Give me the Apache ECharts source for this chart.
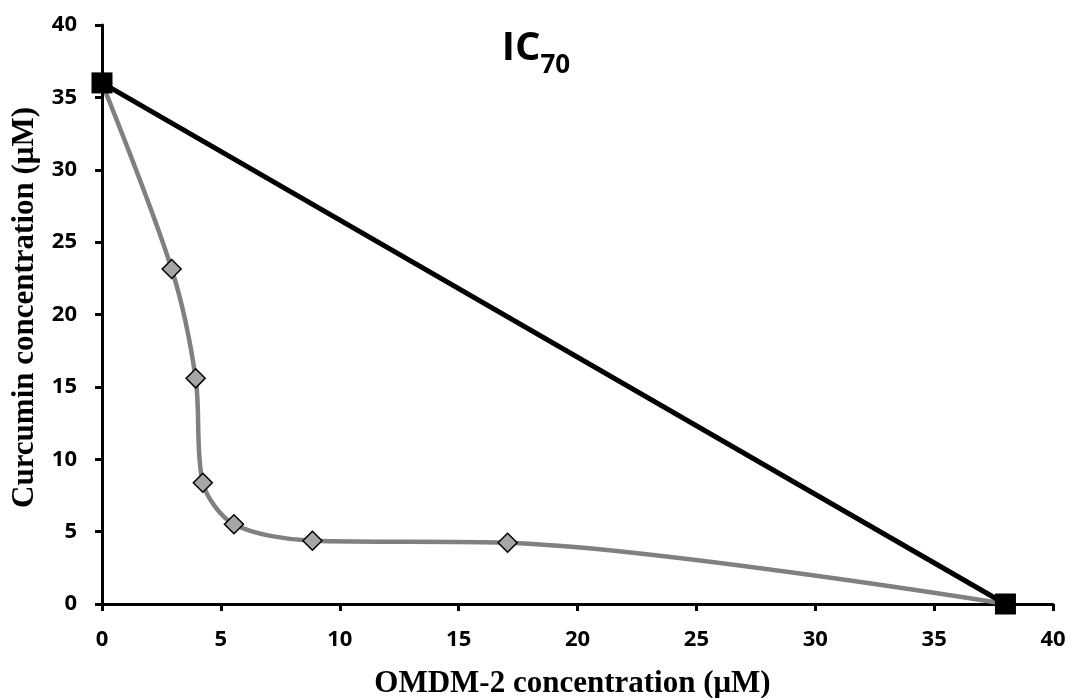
<!DOCTYPE html>
<html>
<head>
<meta charset="utf-8">
<script src="https://cdn.jsdelivr.net/npm/echarts@6/dist/echarts.min.js"></script>
<style>html,body{margin:0;padding:0;background:#fff}#c{width:1072px;height:698px}</style>
</head>
<body>
<div id="c"></div>
<script>
const combinationX = [0, 2.93, 3.94, 4.24, 5.55, 8.85, 17.06, 38];
const combinationY = [36, 23.14, 15.59, 8.38, 5.51, 4.37, 4.23, 0];
const additiveX = [0, 38];
const additiveY = [36, 0];
const xTicks = [0, 5, 10, 15, 20, 25, 30, 35, 40];
const yTicks = [0, 5, 10, 15, 20, 25, 30, 35, 40];

const chart = echarts.init(document.getElementById('c'));
const tickFont = {fontFamily: 'Open Sans', fontWeight: 'bold', fontSize: 22, color: '#000'};
chart.setOption({
  animation: false,
  backgroundColor: '#fff',
  title: {
    text: '{a|IC}{b|70}',
    left: 531, top: 14, textAlign: 'center',
    textStyle: {
      rich: {
        a: {fontFamily: 'Open Sans', fontWeight: 'bold', fontSize: 40, color: '#000', verticalAlign: 'bottom', lineHeight: 50},
        b: {fontFamily: 'Open Sans', fontWeight: 'bold', fontSize: 26, color: '#000', verticalAlign: 'bottom', lineHeight: 50, padding: [0,0,-10,0]}
      }
    }
  },
  grid: {left: 102, right: 19, top: 25, bottom: 94, containLabel: false, outerBoundsMode: 'none'},
  xAxis: {
    type: 'value', min: xTicks[0], max: xTicks[xTicks.length-1], interval: 5,
    name: 'OMDM-2 concentration (μM)', nameLocation: 'middle', nameGap: 64,
    nameTextStyle: {fontFamily: 'Liberation Serif', fontWeight: 'bold', fontSize: 31, color: '#000', padding: [0, 10, 0, 0]},
    axisLine: {lineStyle: {color: '#000', width: 3}},
    axisTick: {show: true, length: 7, lineStyle: {color: '#000', width: 3}},
    axisLabel: Object.assign({margin: 25}, tickFont),
    splitLine: {show: false}
  },
  yAxis: {
    type: 'value', min: yTicks[0], max: yTicks[yTicks.length-1], interval: 5,
    name: 'Curcumin concentration (μM)', nameLocation: 'middle', nameGap: 60,
    nameTextStyle: {fontFamily: 'Liberation Serif', fontWeight: 'bold', fontSize: 31, color: '#000', padding: [0, 0, 0, 14]},
    axisLine: {show: true, lineStyle: {color: '#000', width: 3}},
    axisTick: {show: true, length: 7, lineStyle: {color: '#000', width: 3}},
    axisLabel: Object.assign({margin: 25}, tickFont),
    splitLine: {show: false}
  },
  series: [
    {
      type: 'line',
      data: combinationX.map((x, i) => [x, combinationY[i]]),
      smooth: 0.3,
      lineStyle: {color: '#808080', width: 4.5},
      symbol: 'diamond', symbolSize: 19, showAllSymbol: true,
      itemStyle: {color: '#a6a6a6', borderColor: '#000', borderWidth: 1.5},
      z: 2
    },
    {
      type: 'line',
      data: additiveX.map((x, i) => [x, additiveY[i]]),
      lineStyle: {color: '#000', width: 5},
      symbol: 'rect', symbolSize: 21,
      itemStyle: {color: '#000'},
      z: 3
    }
  ]
});
</script>
</body>
</html>
